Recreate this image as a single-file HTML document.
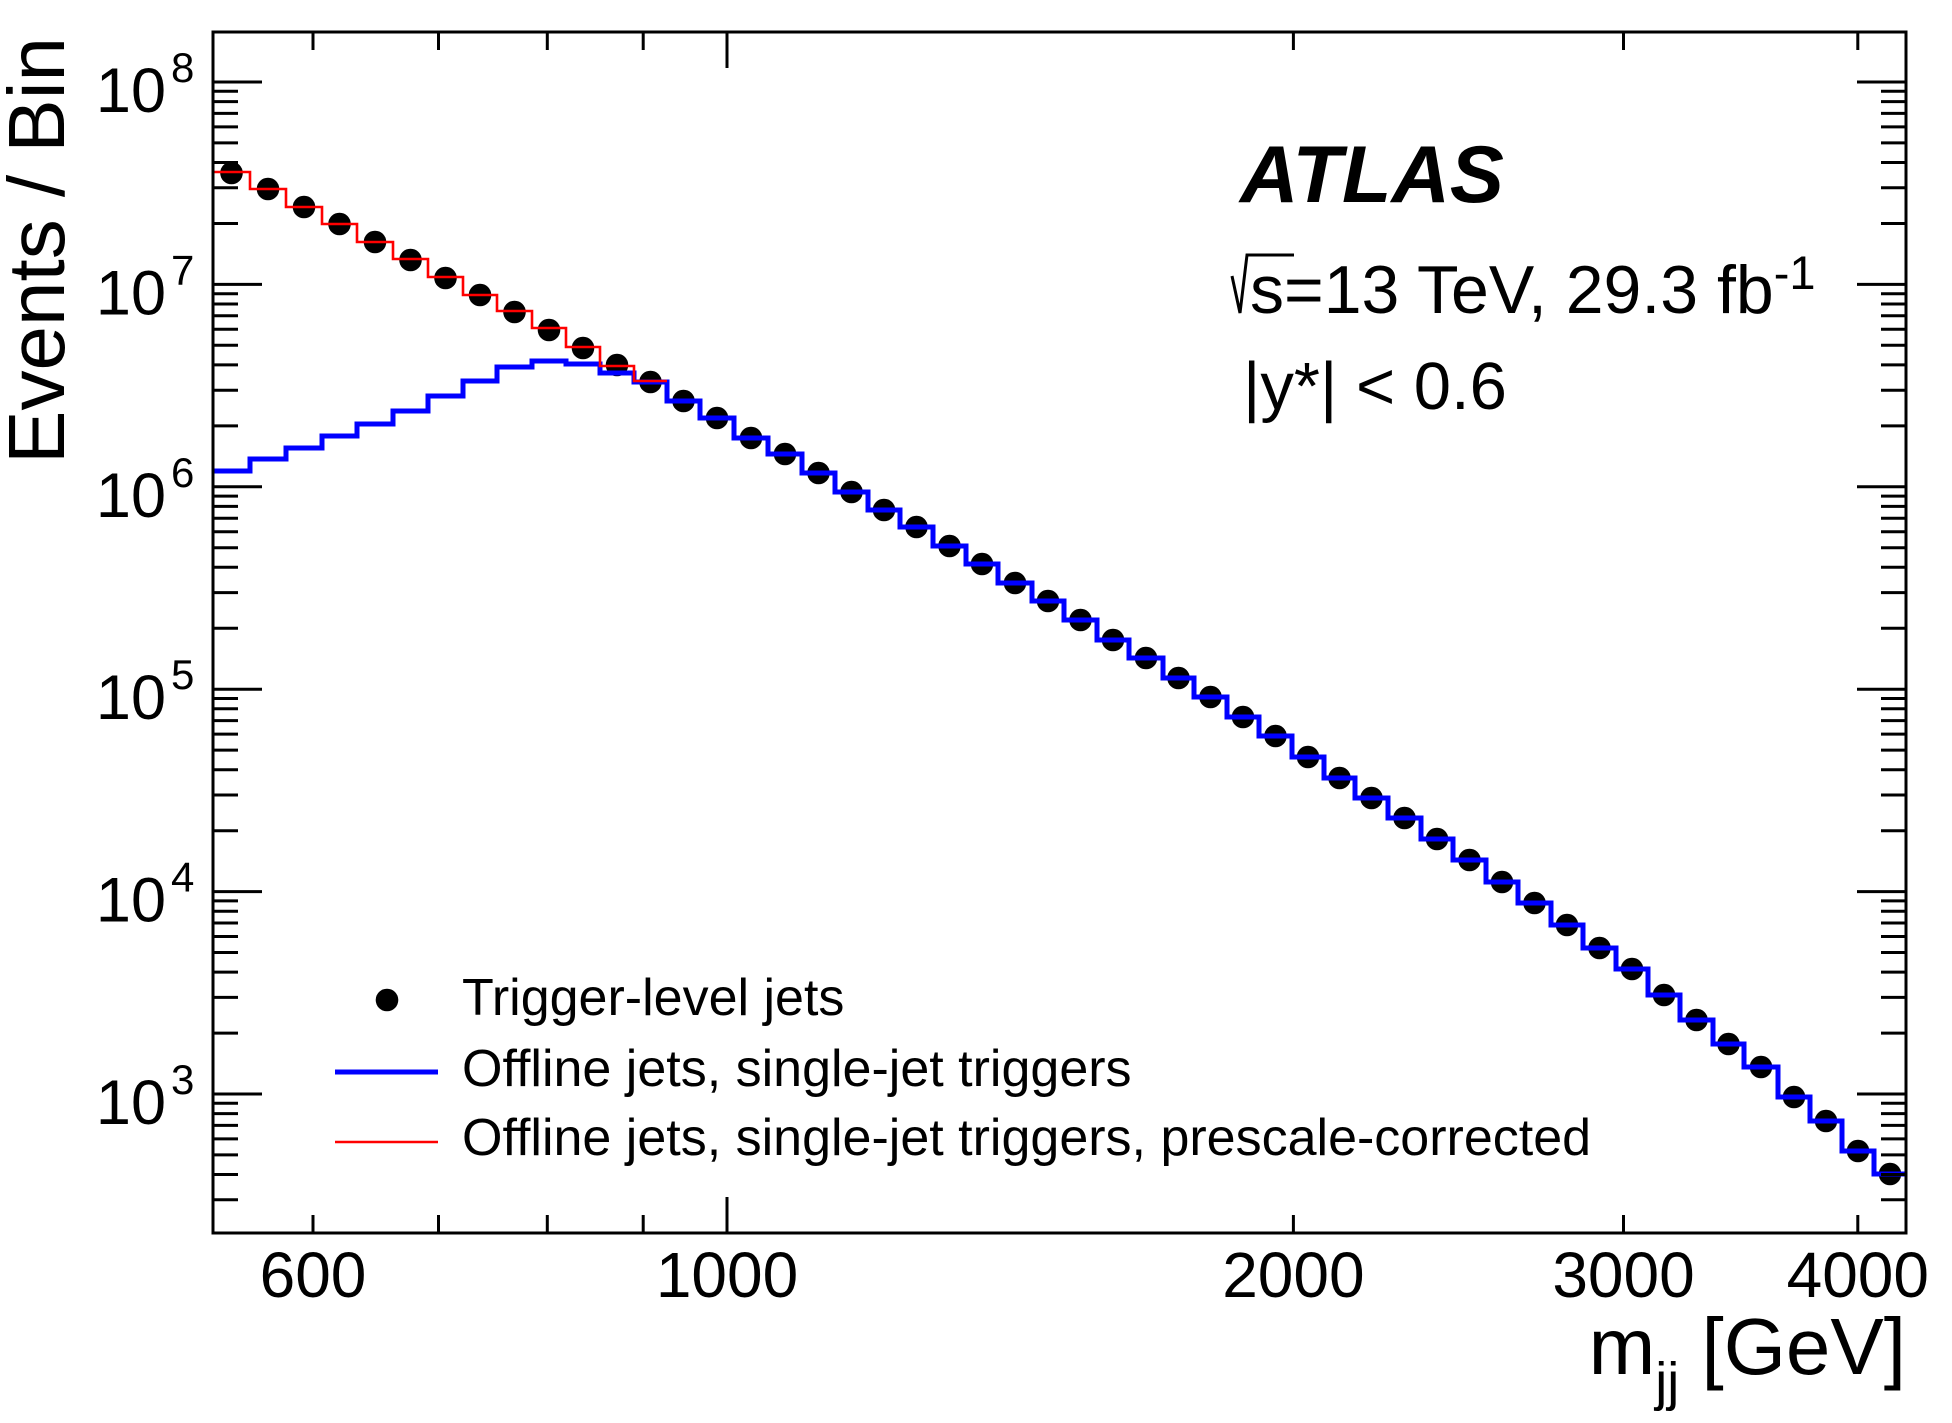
<!DOCTYPE html>
<html>
<head>
<meta charset="utf-8">
<style>
html,body{margin:0;padding:0;background:#fff;}
svg{display:block;}
text{font-family:"Liberation Sans",Arial,Helvetica,sans-serif;fill:#000;}
</style>
</head>
<body>
<svg width="1952" height="1423" viewBox="0 0 1952 1423" xmlns="http://www.w3.org/2000/svg">
<defs>
<clipPath id="pa"><rect x="213" y="32" width="1693" height="1201"/></clipPath>
</defs>
<rect x="0" y="0" width="1952" height="1423" fill="#fff"/>

<g clip-path="url(#pa)" fill="#000">
<circle cx="231.5" cy="173" r="11.3"/>
<circle cx="268" cy="189" r="11.3"/>
<circle cx="304" cy="207" r="11.3"/>
<circle cx="339.5" cy="224" r="11.3"/>
<circle cx="375" cy="242" r="11.3"/>
<circle cx="410.5" cy="260" r="11.3"/>
<circle cx="445.5" cy="278" r="11.3"/>
<circle cx="480" cy="295" r="11.3"/>
<circle cx="514.5" cy="312" r="11.3"/>
<circle cx="549" cy="330" r="11.3"/>
<circle cx="583" cy="348" r="11.3"/>
<circle cx="617" cy="365" r="11.3"/>
<circle cx="650.5" cy="382" r="11.3"/>
<circle cx="683.5" cy="401" r="11.3"/>
<circle cx="717" cy="418" r="11.3"/>
<circle cx="751" cy="438" r="11.3"/>
<circle cx="785" cy="454" r="11.3"/>
<circle cx="818.5" cy="473" r="11.3"/>
<circle cx="851.5" cy="492" r="11.3"/>
<circle cx="884" cy="510" r="11.3"/>
<circle cx="916.5" cy="527" r="11.3"/>
<circle cx="949.5" cy="546" r="11.3"/>
<circle cx="982" cy="564" r="11.3"/>
<circle cx="1015" cy="583" r="11.3"/>
<circle cx="1048" cy="601" r="11.3"/>
<circle cx="1080.5" cy="620" r="11.3"/>
<circle cx="1113" cy="640" r="11.3"/>
<circle cx="1146" cy="658" r="11.3"/>
<circle cx="1178.5" cy="678" r="11.3"/>
<circle cx="1210.5" cy="697" r="11.3"/>
<circle cx="1243" cy="717" r="11.3"/>
<circle cx="1275.5" cy="736" r="11.3"/>
<circle cx="1308" cy="757" r="11.3"/>
<circle cx="1339.5" cy="778" r="11.3"/>
<circle cx="1371.5" cy="798" r="11.3"/>
<circle cx="1404.5" cy="818" r="11.3"/>
<circle cx="1437" cy="839" r="11.3"/>
<circle cx="1469.5" cy="860" r="11.3"/>
<circle cx="1502" cy="882" r="11.3"/>
<circle cx="1534.5" cy="903" r="11.3"/>
<circle cx="1567" cy="925" r="11.3"/>
<circle cx="1599.5" cy="948" r="11.3"/>
<circle cx="1632" cy="969" r="11.3"/>
<circle cx="1664" cy="995" r="11.3"/>
<circle cx="1696.5" cy="1020" r="11.3"/>
<circle cx="1728.5" cy="1044" r="11.3"/>
<circle cx="1761" cy="1067" r="11.3"/>
<circle cx="1794" cy="1097" r="11.3"/>
<circle cx="1826" cy="1121" r="11.3"/>
<circle cx="1858" cy="1151" r="11.3"/>
<circle cx="1890" cy="1174" r="11.3"/>
</g>

<path clip-path="url(#pa)" fill="none" stroke="#0000ff" stroke-width="5"
d="M213,471 H250 V459 H286 V448 H322 V436 H357 V424 H393 V411 H428 V396 H463 V381 H497 V367 H532 V361 H566 V364 H600 V373 H634 V382 H667 V401 H700 V418 H734 V438 H768 V454 H802 V473 H835 V492 H868 V510 H900 V527 H933 V546 H966 V564 H998 V583 H1032 V601 H1064 V620 H1097 V640 H1129 V658 H1163 V678 H1194 V697 H1227 V717 H1259 V736 H1292 V757 H1324 V778 H1355 V798 H1388 V818 H1421 V839 H1453 V860 H1486 V882 H1518 V903 H1551 V925 H1583 V948 H1616 V969 H1648 V995 H1680 V1020 H1713 V1044 H1744 V1067 H1778 V1097 H1810 V1121 H1842 V1151 H1874 V1174 H1906"/>

<path clip-path="url(#pa)" fill="none" stroke="#ff0000" stroke-width="2.6"
d="M213,172 H250 V189 H286 V207 H322 V224 H357 V242 H393 V259 H428 V277 H463 V295 H497 V311 H532 V328 H566 V347 H600 V366 H634 V381 H667"/>

<rect x="213" y="32" width="1693" height="1201" fill="none" stroke="#000" stroke-width="3"/>

<g stroke="#000" stroke-width="3" fill="none">
<path d="M213,82H262 M213,284.4H262 M213,486.8H262 M213,689.2H262 M213,891.6H262 M213,1094H262"/>
<path d="M1906,82H1857 M1906,284.4H1857 M1906,486.8H1857 M1906,689.2H1857 M1906,891.6H1857 M1906,1094H1857"/>
<path d="M213,223.5h25 M213,187.8h25 M213,162.5h25 M213,142.9h25 M213,126.9h25 M213,113.4h25 M213,101.6h25 M213,91.3h25 M213,425.9h25 M213,390.2h25 M213,364.9h25 M213,345.3h25 M213,329.3h25 M213,315.8h25 M213,304h25 M213,293.7h25 M213,628.3h25 M213,592.6h25 M213,567.3h25 M213,547.7h25 M213,531.7h25 M213,518.2h25 M213,506.4h25 M213,496.1h25 M213,830.7h25 M213,795h25 M213,769.7h25 M213,750.1h25 M213,734.1h25 M213,720.6h25 M213,708.8h25 M213,698.5h25 M213,1033.1h25 M213,997.4h25 M213,972.1h25 M213,952.5h25 M213,936.5h25 M213,923h25 M213,911.2h25 M213,900.9h25 M213,1199.8h25 M213,1174.5h25 M213,1154.9h25 M213,1138.9h25 M213,1125.4h25 M213,1113.6h25 M213,1103.3h25"/>
<path d="M1906,223.5h-25 M1906,187.8h-25 M1906,162.5h-25 M1906,142.9h-25 M1906,126.9h-25 M1906,113.4h-25 M1906,101.6h-25 M1906,91.3h-25 M1906,425.9h-25 M1906,390.2h-25 M1906,364.9h-25 M1906,345.3h-25 M1906,329.3h-25 M1906,315.8h-25 M1906,304h-25 M1906,293.7h-25 M1906,628.3h-25 M1906,592.6h-25 M1906,567.3h-25 M1906,547.7h-25 M1906,531.7h-25 M1906,518.2h-25 M1906,506.4h-25 M1906,496.1h-25 M1906,830.7h-25 M1906,795h-25 M1906,769.7h-25 M1906,750.1h-25 M1906,734.1h-25 M1906,720.6h-25 M1906,708.8h-25 M1906,698.5h-25 M1906,1033.1h-25 M1906,997.4h-25 M1906,972.1h-25 M1906,952.5h-25 M1906,936.5h-25 M1906,923h-25 M1906,911.2h-25 M1906,900.9h-25 M1906,1199.8h-25 M1906,1174.5h-25 M1906,1154.9h-25 M1906,1138.9h-25 M1906,1125.4h-25 M1906,1113.6h-25 M1906,1103.3h-25"/>
<path d="M313,1233v-18 M438.5,1233v-18 M547.3,1233v-18 M643.2,1233v-18 M727,1233v-36 M1293.4,1233v-18 M1623.5,1233v-18 M1857.8,1233v-18"/>
<path d="M313,32v18 M438.5,32v18 M547.3,32v18 M643.2,32v18 M727,32v36 M1293.4,32v18 M1623.5,32v18 M1857.8,32v18"/>
</g>

<g font-size="63" text-anchor="end">
<text x="166" y="112">10</text>
<text x="166" y="314.4">10</text>
<text x="166" y="516.8">10</text>
<text x="166" y="719.2">10</text>
<text x="166" y="921.6">10</text>
<text x="166" y="1124">10</text>
</g>
<g font-size="42">
<text x="171" y="82">8</text>
<text x="171" y="284.4">7</text>
<text x="171" y="486.8">6</text>
<text x="171" y="689.2">5</text>
<text x="171" y="891.6">4</text>
<text x="171" y="1094">3</text>
</g>

<g font-size="64" text-anchor="middle">
<text x="313" y="1297">600</text>
<text x="727" y="1297">1000</text>
<text x="1293.4" y="1297">2000</text>
<text x="1623.5" y="1297">3000</text>
<text x="1857.8" y="1297">4000</text>
</g>

<text x="1906" y="1374" text-anchor="end" font-size="80">m<tspan font-size="54" dy="26">jj</tspan><tspan font-size="80" dy="-26"> [GeV]</tspan></text>
<text transform="translate(64,37) rotate(-90)" x="0" y="0" text-anchor="end" font-size="80">Events / Bin</text>

<text x="1240" y="202" font-size="81" font-weight="bold" font-style="italic">ATLAS</text>
<polyline points="1232,276 1240,313 1247,255 1294,255" fill="none" stroke="#000" stroke-width="3"/>
<text x="1250" y="313" font-size="68">s=13 TeV, 29.3 fb<tspan font-size="47" dy="-24">-1</tspan></text>
<text x="1243" y="409" font-size="67">|y*| &lt; 0.6</text>

<circle cx="387" cy="1000" r="11.3" fill="#000"/>
<text x="462" y="1015" font-size="52">Trigger-level jets</text>
<line x1="335" y1="1072" x2="438" y2="1072" stroke="#0000ff" stroke-width="5"/>
<text x="462" y="1086" font-size="52">Offline jets, single-jet triggers</text>
<line x1="335" y1="1142" x2="438" y2="1142" stroke="#ff0000" stroke-width="2.6"/>
<text x="462" y="1155" font-size="52">Offline jets, single-jet triggers, prescale-corrected</text>
</svg>
</body>
</html>
